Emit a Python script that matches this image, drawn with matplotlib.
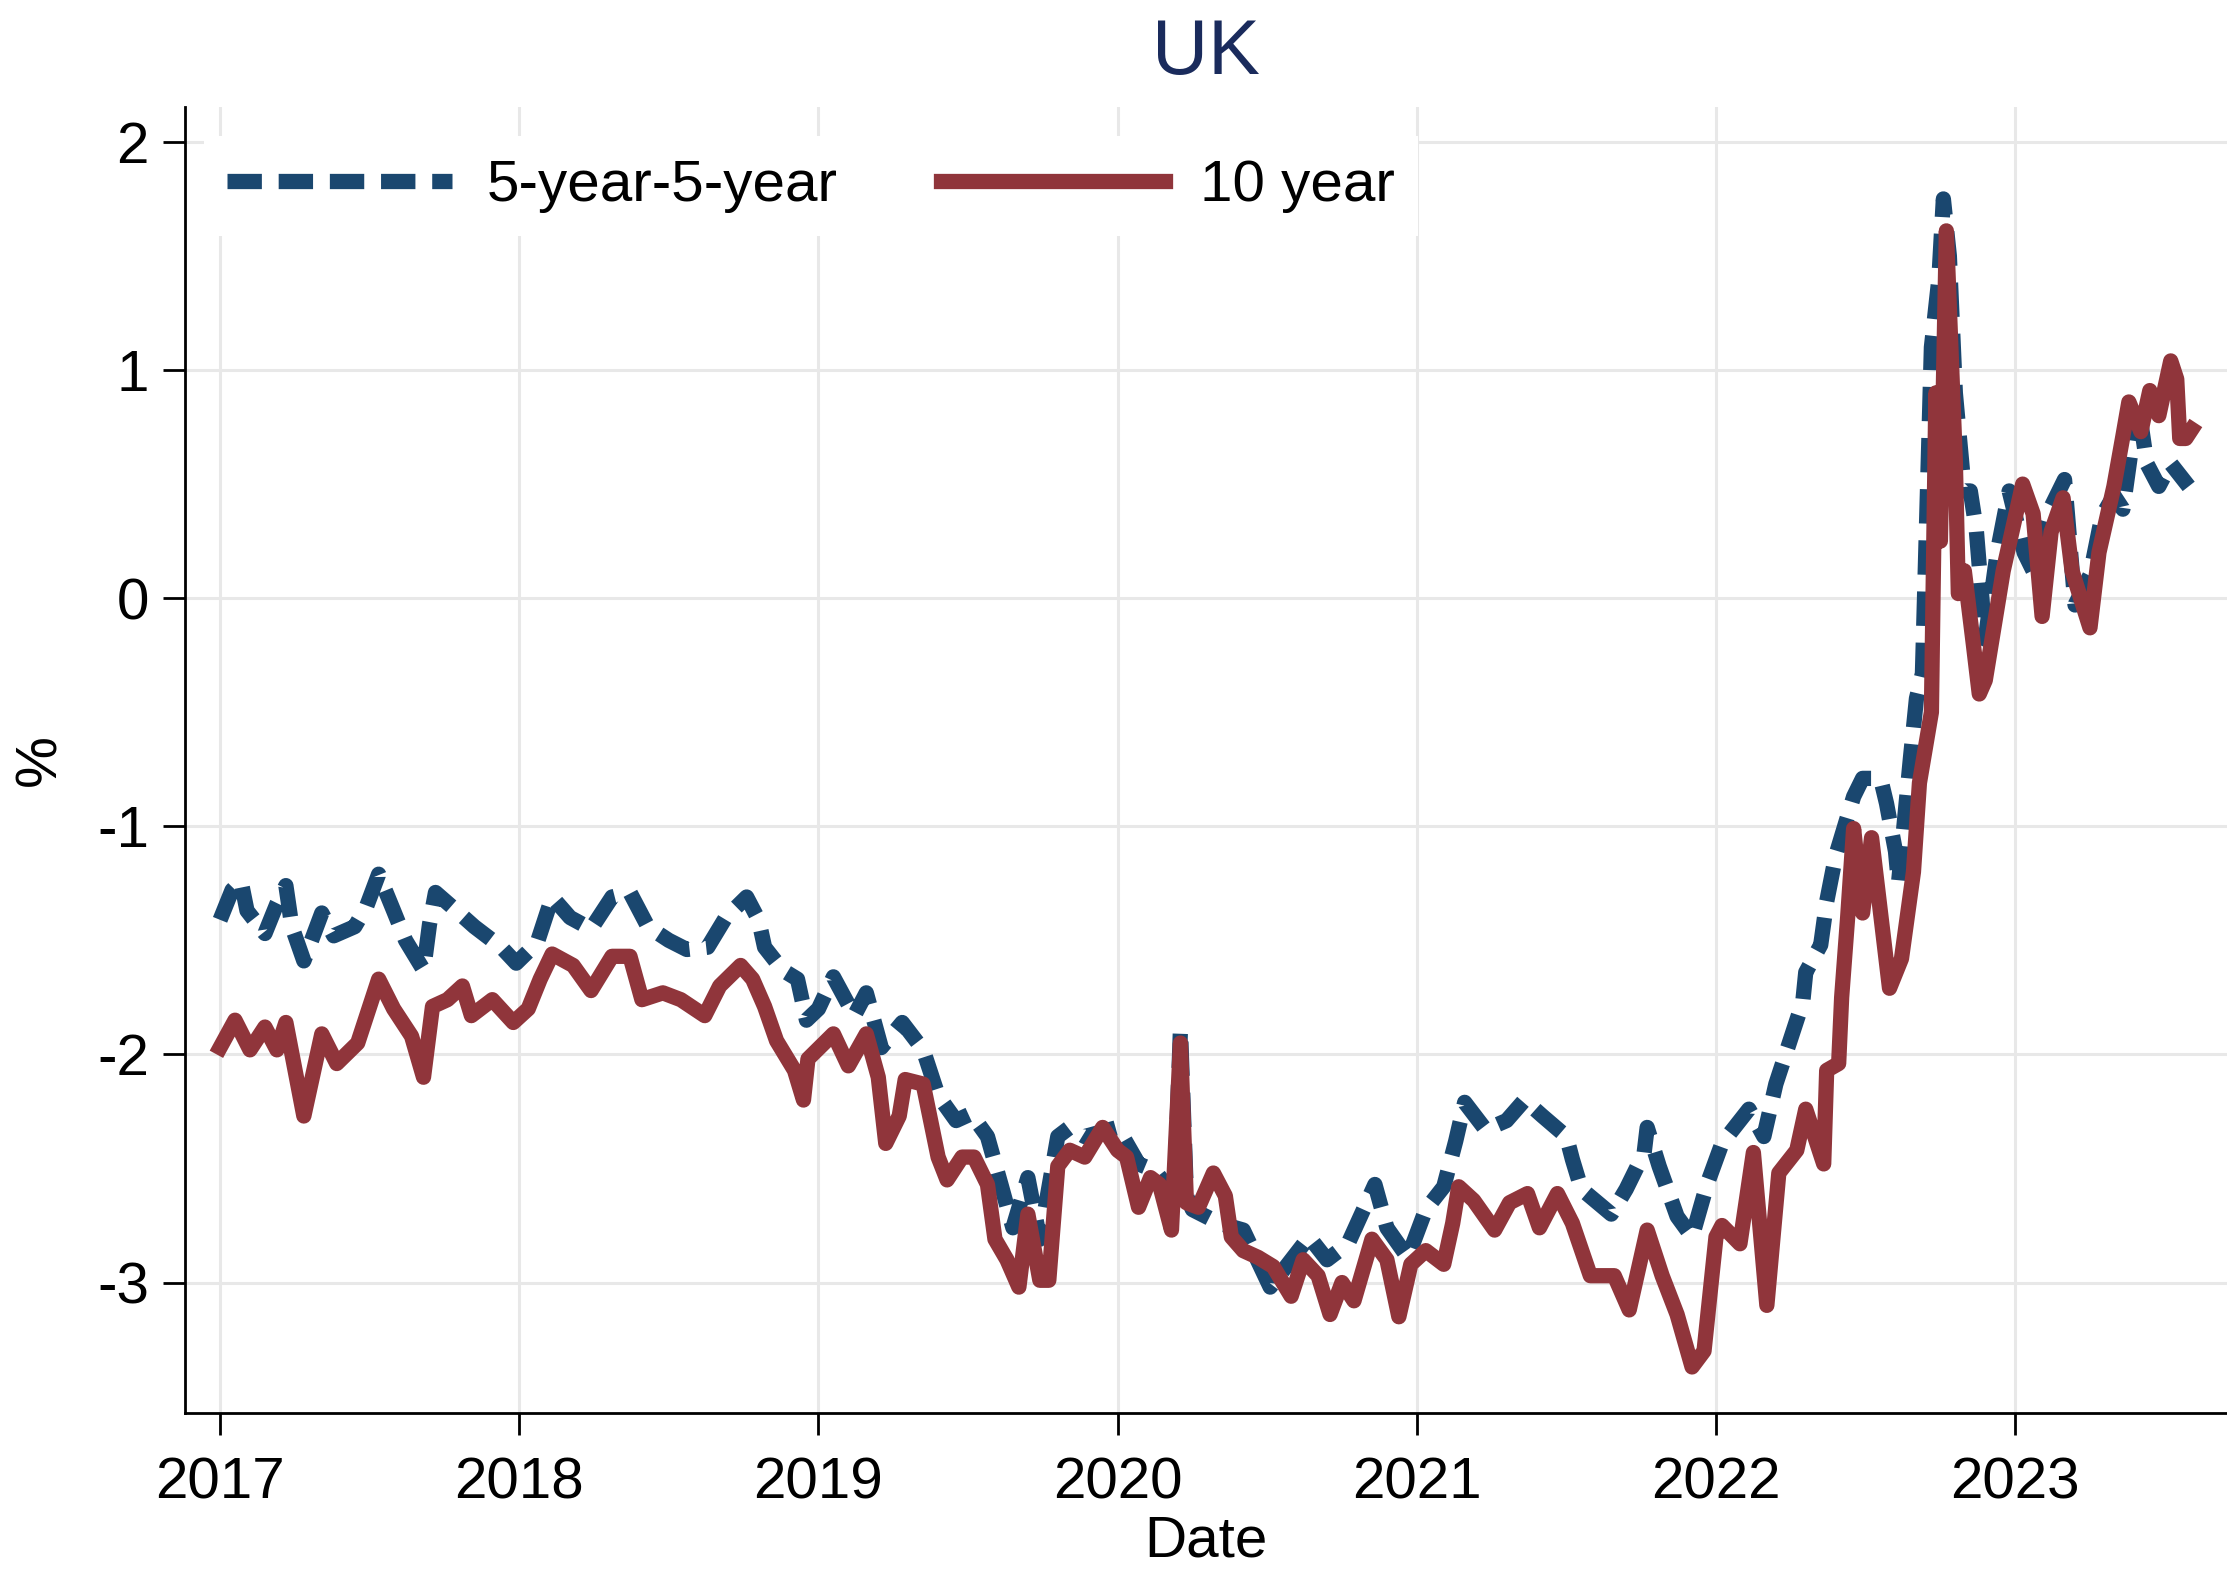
import matplotlib
matplotlib.use("Agg")
import matplotlib.pyplot as plt

plt.rcParams['font.family'] = ['Liberation Sans', 'DejaVu Sans']

# 5-year-5-year forward (decimal year, %)
fwd_t = [2017.00, 2017.04, 2017.07, 2017.09, 2017.15, 2017.19, 2017.22, 2017.24, 2017.28, 2017.34,
         2017.38, 2017.45, 2017.49, 2017.53, 2017.58, 2017.62, 2017.68, 2017.70, 2017.72, 2017.79,
         2017.85, 2017.94, 2017.99, 2018.06, 2018.11, 2018.17, 2018.24, 2018.31, 2018.37, 2018.43,
         2018.50, 2018.56, 2018.63, 2018.69, 2018.76, 2018.80, 2018.82, 2018.88, 2018.93, 2018.96,
         2019.00, 2019.05, 2019.12, 2019.16, 2019.21, 2019.28, 2019.35, 2019.40, 2019.46, 2019.51,
         2019.565, 2019.61, 2019.65, 2019.70, 2019.74, 2019.80, 2019.84, 2019.89, 2020.00, 2020.07,
         2020.125, 2020.19, 2020.21, 2020.23, 2020.25, 2020.34, 2020.42, 2020.51, 2020.64, 2020.70,
         2020.77, 2020.86, 2020.90, 2020.97, 2021.03, 2021.09, 2021.13, 2021.16, 2021.23, 2021.30,
         2021.36, 2021.42, 2021.50, 2021.52, 2021.55, 2021.65, 2021.70, 2021.76, 2021.77, 2021.81,
         2021.87, 2021.92, 2021.97, 2022.02, 2022.11, 2022.16, 2022.20, 2022.24, 2022.29, 2022.30,
         2022.35, 2022.37, 2022.40, 2022.46, 2022.49, 2022.55, 2022.57, 2022.60, 2022.61, 2022.65,
         2022.67, 2022.69, 2022.72, 2022.745, 2022.76, 2022.78, 2022.80, 2022.83, 2022.85, 2022.87,
         2022.90, 2022.94, 2022.98, 2023.03, 2023.06, 2023.12, 2023.165, 2023.20, 2023.25, 2023.29,
         2023.33, 2023.36, 2023.41, 2023.44, 2023.48, 2023.52, 2023.55, 2023.58]
fwd_v = [-1.41, -1.28, -1.24, -1.37, -1.47, -1.34, -1.26, -1.44, -1.59, -1.38,
         -1.48, -1.44, -1.35, -1.21, -1.37, -1.50, -1.63, -1.43, -1.29, -1.37,
         -1.44, -1.53, -1.60, -1.51, -1.31, -1.40, -1.45, -1.31, -1.29, -1.44,
         -1.50, -1.54, -1.53, -1.40, -1.31, -1.41, -1.53, -1.63, -1.67, -1.85,
         -1.80, -1.66, -1.83, -1.73, -1.97, -1.86, -1.98, -2.18, -2.29, -2.26,
         -2.36, -2.57, -2.76, -2.54, -2.81, -2.36, -2.32, -2.36, -2.32, -2.48,
         -2.51, -2.62, -1.89, -2.62, -2.68, -2.74, -2.77, -3.02, -2.80, -2.90,
         -2.83, -2.57, -2.76, -2.89, -2.68, -2.58, -2.38, -2.21, -2.33, -2.29,
         -2.20, -2.27, -2.36, -2.46, -2.59, -2.70, -2.59, -2.43, -2.32, -2.49,
         -2.71, -2.80, -2.57, -2.39, -2.24, -2.36, -2.13, -1.97, -1.77, -1.64,
         -1.52, -1.33, -1.13, -0.87, -0.79, -0.79, -0.90, -1.11, -1.25, -0.70,
         -0.44, -0.33, 1.10, 1.40, 1.75, 1.50, 0.90, 0.47, 0.47, 0.30,
         -0.18, 0.20, 0.47, 0.20, 0.12, 0.40, 0.52, -0.03, 0.10, 0.36,
         0.45, 0.39, 0.86, 0.59, 0.49, 0.59, 0.54, 0.49]

# 10 year (decimal year, %)
ten_t = [2017.00, 2017.05, 2017.10, 2017.15, 2017.19, 2017.22, 2017.28, 2017.34, 2017.39, 2017.46,
         2017.50, 2017.53, 2017.58, 2017.64, 2017.68, 2017.71, 2017.76, 2017.81, 2017.84, 2017.91,
         2017.98, 2018.03, 2018.07, 2018.11, 2018.18, 2018.24, 2018.31, 2018.37, 2018.41, 2018.48,
         2018.54, 2018.62, 2018.67, 2018.74, 2018.78, 2018.82, 2018.86, 2018.92, 2018.95, 2018.965,
         2019.05, 2019.10, 2019.16, 2019.20, 2019.225, 2019.27, 2019.29, 2019.35, 2019.40, 2019.43,
         2019.48, 2019.52, 2019.565, 2019.59, 2019.63, 2019.67, 2019.70, 2019.74, 2019.77, 2019.80,
         2019.84, 2019.89, 2019.95, 2020.00, 2020.03, 2020.07, 2020.11, 2020.14, 2020.18, 2020.21,
         2020.23, 2020.27, 2020.32, 2020.36, 2020.38, 2020.42, 2020.47, 2020.52, 2020.58, 2020.62,
         2020.67, 2020.71, 2020.75, 2020.79, 2020.85, 2020.90, 2020.94, 2020.98, 2021.03, 2021.09,
         2021.12, 2021.14, 2021.19, 2021.26, 2021.31, 2021.37, 2021.41, 2021.47, 2021.52, 2021.58,
         2021.66, 2021.71, 2021.77, 2021.82, 2021.87, 2021.92, 2021.96, 2022.00, 2022.02, 2022.08,
         2022.125, 2022.17, 2022.21, 2022.27, 2022.30, 2022.36, 2022.37, 2022.41, 2022.42, 2022.44,
         2022.46, 2022.49, 2022.52, 2022.58, 2022.62, 2022.66, 2022.68, 2022.72, 2022.735, 2022.75,
         2022.77, 2022.80, 2022.81, 2022.83, 2022.86, 2022.88, 2022.90, 2022.96, 2023.025, 2023.06,
         2023.09, 2023.12, 2023.16, 2023.19, 2023.25, 2023.28, 2023.33, 2023.36, 2023.38, 2023.42,
         2023.45, 2023.48, 2023.52, 2023.54, 2023.55, 2023.57, 2023.59]
ten_v = [-1.97, -1.85, -1.98, -1.88, -1.98, -1.86, -2.27, -1.91, -2.04, -1.95,
         -1.79, -1.67, -1.80, -1.92, -2.10, -1.79, -1.76, -1.70, -1.83, -1.76,
         -1.86, -1.80, -1.67, -1.56, -1.61, -1.72, -1.57, -1.57, -1.76, -1.73,
         -1.76, -1.83, -1.70, -1.61, -1.67, -1.79, -1.94, -2.07, -2.20, -2.02,
         -1.91, -2.05, -1.91, -2.10, -2.39, -2.27, -2.11, -2.13, -2.45, -2.55,
         -2.45, -2.45, -2.57, -2.81, -2.90, -3.02, -2.70, -2.99, -2.99, -2.49,
         -2.42, -2.45, -2.32, -2.42, -2.45, -2.67, -2.54, -2.57, -2.77, -1.95,
         -2.65, -2.67, -2.52, -2.62, -2.80, -2.86, -2.89, -2.93, -3.06, -2.90,
         -2.97, -3.14, -3.00, -3.08, -2.81, -2.90, -3.15, -2.92, -2.86, -2.92,
         -2.74, -2.58, -2.64, -2.77, -2.65, -2.61, -2.76, -2.61, -2.74, -2.97,
         -2.97, -3.12, -2.77, -2.97, -3.14, -3.37, -3.30, -2.80, -2.75, -2.83,
         -2.43, -3.10, -2.52, -2.42, -2.24, -2.48, -2.07, -2.04, -1.75, -1.40,
         -1.01, -1.38, -1.05, -1.71, -1.58, -1.20, -0.81, -0.50, 0.90, 0.25,
         1.61, 0.60, 0.02, 0.12, -0.20, -0.42, -0.36, 0.12, 0.50, 0.37,
         -0.08, 0.29, 0.44, 0.12, -0.13, 0.20, 0.49, 0.71, 0.86, 0.73,
         0.91, 0.80, 1.04, 0.96, 0.70, 0.70, 0.74]

years = [2017, 2018, 2019, 2020, 2021, 2022, 2023]
y_ticks = [2, 1, 0, -1, -2, -3]
y_labels = ['2', '1', '0', '-1', '-2', '-3']

blue = '#1a476f'
red = '#90353b'

fig = plt.figure(figsize=(22.27, 15.69), dpi=100)
ax = fig.add_axes([0.0831, 0.0994, 0.9169, 0.8324])

ax.plot(fwd_t, fwd_v, color=blue, lw=11, linestyle=(0, (2.25, 1.1)),
        label='5-year-5-year', zorder=3)
ax.plot(ten_t, ten_v, color=red, lw=11, label='10 year', zorder=4)

ax.set_xlim(2016.883, 2023.708)
ax.set_ylim(-3.572, 2.153)
ax.set_xticks(years)
ax.set_xticklabels([str(y) for y in years])
ax.set_yticks(y_ticks)
ax.set_yticklabels(y_labels)

ax.grid(True, color='#e8e8e8', lw=2.2, zorder=0)
ax.set_axisbelow(True)
for s in ['top', 'right']:
    ax.spines[s].set_visible(False)
for s in ['left', 'bottom']:
    ax.spines[s].set_linewidth(2)
ax.tick_params(axis='both', labelsize=42, length=16, width=2, direction='out')
ax.tick_params(axis='x', pad=15)
ax.tick_params(axis='y', pad=10)

ax.set_title('UK', fontsize=56, color='#1a2b5c', pad=24)
ax.set_xlabel('Date', fontsize=42, labelpad=3)
ax.set_ylabel('%', fontsize=42, labelpad=21)

leg = ax.legend(loc='upper left', bbox_to_anchor=(0.0093, 0.978), borderaxespad=0,
                ncol=2, fontsize=42, handlelength=3.85, handletextpad=0.6,
                columnspacing=1.76, borderpad=0.4, frameon=True, fancybox=False,
                framealpha=1, facecolor='white', edgecolor='none')
leg.set_zorder(5)

fig.savefig('out.png', dpi=100, facecolor='white')
